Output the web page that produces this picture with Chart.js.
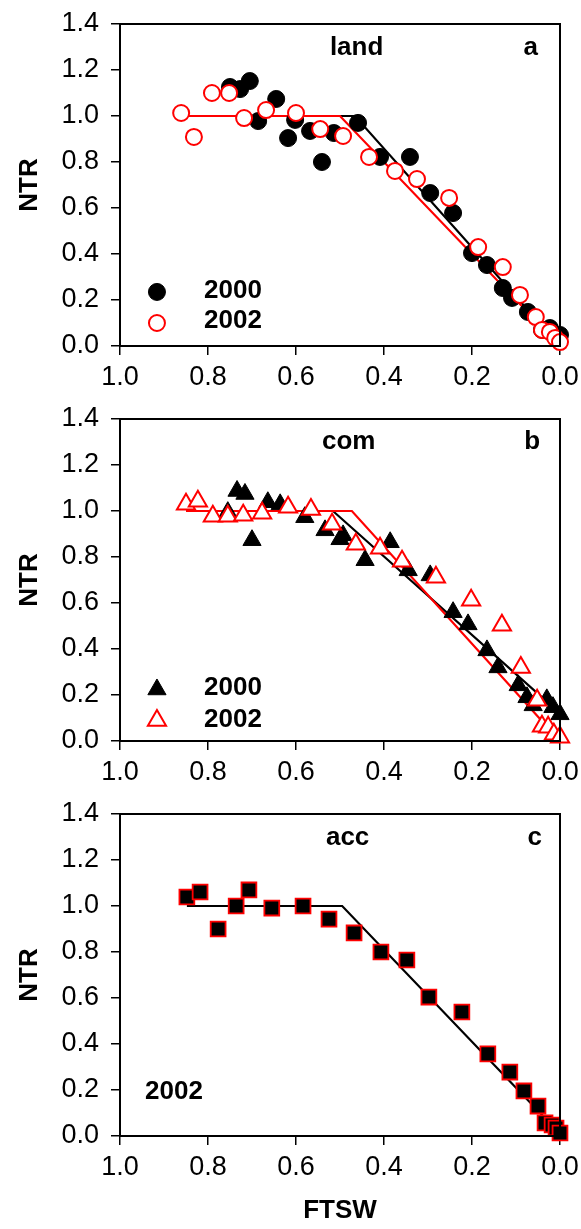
<!DOCTYPE html>
<html lang="en">
<head>
<meta charset="UTF-8">
<title>NTR vs FTSW</title>
<script src="https://cdn.jsdelivr.net/npm/chart.js"></script>
<style>
  body { margin: 0; background: #fff; }
  .panel { position: absolute; left: 0; width: 581px; }
</style>
</head>
<body>
<div class="panel" style="top:0;height:395px"><canvas id="chartA"></canvas></div>
<div class="panel" style="top:395px;height:395px"><canvas id="chartB"></canvas></div>
<div class="panel" style="top:790px;height:439px"><canvas id="chartC"></canvas></div>
<script>
// panel a - land
const land2000X = [0.75, 0.727, 0.705, 0.686, 0.645, 0.618, 0.602, 0.568, 0.541, 0.514, 0.459, 0.409, 0.341, 0.295, 0.243, 0.2, 0.166, 0.13, 0.109, 0.073, 0.041, 0.023, 0.0];
const land2000Y = [1.126, 1.117, 1.152, 0.978, 1.074, 0.904, 0.983, 0.935, 0.80, 0.926, 0.97, 0.822, 0.822, 0.665, 0.578, 0.404, 0.352, 0.252, 0.209, 0.148, 0.07, 0.078, 0.048];
const land2002X = [0.861, 0.832, 0.791, 0.752, 0.718, 0.668, 0.6, 0.545, 0.493, 0.434, 0.375, 0.325, 0.252, 0.186, 0.13, 0.091, 0.055, 0.041, 0.023, 0.011, 0.0];
const land2002Y = [1.013, 0.909, 1.1, 1.1, 0.991, 1.026, 1.013, 0.943, 0.913, 0.822, 0.761, 0.726, 0.644, 0.43, 0.343, 0.222, 0.126, 0.07, 0.061, 0.035, 0.017];
const landFit2000X = [0.85, 0.466, 0.0];
const landFit2000Y = [1.0, 1.0, 0.0];
const landFit2002X = [0.85, 0.5, 0.0];
const landFit2002Y = [1.0, 1.0, 0.0];

// panel b - com
const com2000X = [0.755, 0.734, 0.716, 0.7, 0.664, 0.636, 0.58, 0.534, 0.5, 0.493, 0.443, 0.386, 0.345, 0.295, 0.243, 0.209, 0.166, 0.141, 0.095, 0.075, 0.061, 0.03, 0.016, 0.0];
const com2000Y = [0.995, 1.087, 1.074, 0.873, 1.038, 1.029, 0.973, 0.916, 0.877, 0.894, 0.786, 0.864, 0.742, 0.72, 0.56, 0.507, 0.394, 0.32, 0.242, 0.19, 0.155, 0.181, 0.147, 0.116];
const com2002X = [0.85, 0.823, 0.789, 0.755, 0.72, 0.677, 0.618, 0.566, 0.518, 0.464, 0.409, 0.359, 0.282, 0.202, 0.132, 0.089, 0.052, 0.041, 0.027, 0.014, 0.0];
const com2002Y = [1.029, 1.042, 0.977, 0.977, 0.981, 0.99, 1.016, 1.007, 0.942, 0.855, 0.838, 0.781, 0.712, 0.612, 0.503, 0.32, 0.177, 0.064, 0.06, 0.029, 0.016];
const comFit2000X = [0.85, 0.516, 0.0];
const comFit2000Y = [1.0, 1.0, 0.12];
const comFit2002X = [0.85, 0.473, 0.0];
const comFit2002Y = [1.0, 1.0, 0.0];

// panel c - acc
const acc2002X = [0.848, 0.818, 0.777, 0.736, 0.707, 0.655, 0.584, 0.525, 0.468, 0.407, 0.348, 0.298, 0.223, 0.164, 0.114, 0.082, 0.05, 0.034, 0.018, 0.009, 0.0];
const acc2002Y = [1.039, 1.061, 0.9, 1.0, 1.07, 0.991, 1.0, 0.943, 0.883, 0.8, 0.765, 0.604, 0.539, 0.357, 0.278, 0.196, 0.13, 0.057, 0.048, 0.035, 0.013];
const accFitX = [0.848, 0.495, 0.0];
const accFitY = [1.0, 1.0, 0.01];

const RED = '#ff0000';
const FONT = "'Liberation Sans', Arial, sans-serif";

function pts(xs, ys) {
    return xs.map((x, i) => ({ x: x, y: ys[i] }));
}

// box around the plot area
const framePlugin = {
    id: 'frame',
    afterDraw(chart) {
        const a = chart.chartArea;
        const ctx = chart.ctx;
        ctx.save();
        ctx.strokeStyle = '#000';
        ctx.lineWidth = 2;
        ctx.strokeRect(a.left, a.top, a.right - a.left, a.bottom - a.top);
        ctx.restore();
    }
};

// panel labels and the little legends, placed in data units
const notesPlugin = {
    id: 'notes',
    afterDatasetsDraw(chart, args, opts) {
        const ctx = chart.ctx;
        const xs = chart.scales.x, ys = chart.scales.y;
        ctx.save();
        (opts.items || []).forEach(it => {
            const px = xs.getPixelForValue(it.x);
            const py = ys.getPixelForValue(it.y);
            if (it.marker) {
                ctx.fillStyle = it.marker.fill;
                ctx.strokeStyle = it.marker.stroke;
                ctx.lineWidth = it.marker.borderWidth;
                Chart.helpers.drawPoint(ctx, {
                    pointStyle: it.marker.style,
                    radius: it.marker.radius,
                    borderWidth: it.marker.borderWidth,
                    rotation: 0
                }, px, py);
            } else {
                ctx.fillStyle = '#000';
                ctx.font = 'bold 26px ' + FONT;
                ctx.textAlign = it.align || 'left';
                ctx.textBaseline = 'alphabetic';
                ctx.fillText(it.text, px, py);
            }
        });
        ctx.restore();
    }
};

function makeChart(id, datasets, notes, showXTitle) {
    const tickFont = { family: FONT, size: 27 };
    new Chart(document.getElementById(id), {
        type: 'scatter',
        data: { datasets: datasets },
        plugins: [framePlugin, notesPlugin],
        options: {
            responsive: true,
            maintainAspectRatio: false,
            animation: false,
            layout: { padding: { left: 0, right: 21, top: 24, bottom: 0 } },
            plugins: {
                legend: { display: false },
                tooltip: { enabled: false },
                notes: { items: notes }
            },
            scales: {
                x: {
                    type: 'linear',
                    reverse: true,
                    min: 0,
                    max: 1,
                    ticks: {
                        stepSize: 0.2,
                        color: '#000',
                        font: tickFont,
                        padding: 6,
                        maxRotation: 0,
                        callback: v => v.toFixed(1)
                    },
                    grid: { drawOnChartArea: false, drawTicks: true, tickLength: 9, color: '#000', lineWidth: 1.5 },
                    border: { color: '#000', width: 2 },
                    title: {
                        display: showXTitle,
                        text: 'FTSW',
                        color: '#000',
                        font: { family: FONT, size: 26, weight: 'bold' },
                        padding: { top: 0, bottom: 3 }
                    },
                    afterFit(s) {
                        s.height = showXTitle ? 93 : 49;
                        s.paddingLeft = 0;
                        s.paddingRight = 0;
                    }
                },
                y: {
                    min: 0,
                    max: 1.4,
                    ticks: {
                        stepSize: 0.2,
                        color: '#000',
                        font: tickFont,
                        padding: 12,
                        callback: v => v.toFixed(1)
                    },
                    grid: { drawOnChartArea: false, drawTicks: true, tickLength: 9, color: '#000', lineWidth: 1.5 },
                    border: { color: '#000', width: 2 },
                    title: {
                        display: true,
                        text: 'NTR',
                        color: '#000',
                        font: { family: FONT, size: 26, weight: 'bold' },
                        padding: { top: 14, bottom: 0 }
                    },
                    afterFit(s) {
                        s.width = 120;
                        s.paddingTop = 0;
                        s.paddingBottom = 0;
                    }
                }
            }
        }
    });
}

function fitLine(xs, ys, color, order) {
    return { data: pts(xs, ys), showLine: true, borderColor: color, borderWidth: 2.2, pointRadius: 0, clip: false, order: order };
}

function marks(xs, ys, style, radius, fill, stroke, bw, order) {
    return {
        data: pts(xs, ys), showLine: false, pointStyle: style, pointRadius: radius,
        backgroundColor: fill, borderColor: stroke, borderWidth: bw, clip: false, order: order
    };
}

makeChart('chartA', [
    marks(land2002X, land2002Y, 'circle', 8, '#fff', RED, 2, 0),
    marks(land2000X, land2000Y, 'circle', 8.5, '#000', '#000', 1, 1),
    fitLine(landFit2002X, landFit2002Y, RED, 2),
    fitLine(landFit2000X, landFit2000Y, '#000', 3)
], [
    { text: 'land', x: 0.523, y: 1.265 },
    { text: 'a', x: 0.05, y: 1.265, align: 'right' },
    { marker: { style: 'circle', radius: 8.5, fill: '#000', stroke: '#000', borderWidth: 1 }, x: 0.916, y: 0.235 },
    { marker: { style: 'circle', radius: 8, fill: '#fff', stroke: RED, borderWidth: 2 }, x: 0.916, y: 0.1 },
    { text: '2000', x: 0.809, y: 0.209 },
    { text: '2002', x: 0.809, y: 0.078 }
], false);

makeChart('chartB', [
    marks(com2002X, com2002Y, 'triangle', 10.5, '#fff', RED, 2, 0),
    marks(com2000X, com2000Y, 'triangle', 10.5, '#000', '#000', 1, 1),
    fitLine(comFit2002X, comFit2002Y, RED, 2),
    fitLine(comFit2000X, comFit2000Y, '#000', 3)
], [
    { text: 'com', x: 0.541, y: 1.27 },
    { text: 'b', x: 0.045, y: 1.27, align: 'right' },
    { marker: { style: 'triangle', radius: 10.5, fill: '#000', stroke: '#000', borderWidth: 1 }, x: 0.916, y: 0.224 },
    { marker: { style: 'triangle', radius: 10.5, fill: '#fff', stroke: RED, borderWidth: 2 }, x: 0.916, y: 0.089 },
    { text: '2000', x: 0.809, y: 0.2 },
    { text: '2002', x: 0.809, y: 0.061 }
], false);

makeChart('chartC', [
    marks(acc2002X, acc2002Y, 'rect', 10.5, '#000', RED, 1.8, 0),
    fitLine(accFitX, accFitY, '#000', 1)
], [
    { text: 'acc', x: 0.532, y: 1.265 },
    { text: 'c', x: 0.041, y: 1.265, align: 'right' },
    { text: '2002', x: 0.943, y: 0.161 }
], true);
</script>
</body>
</html>
